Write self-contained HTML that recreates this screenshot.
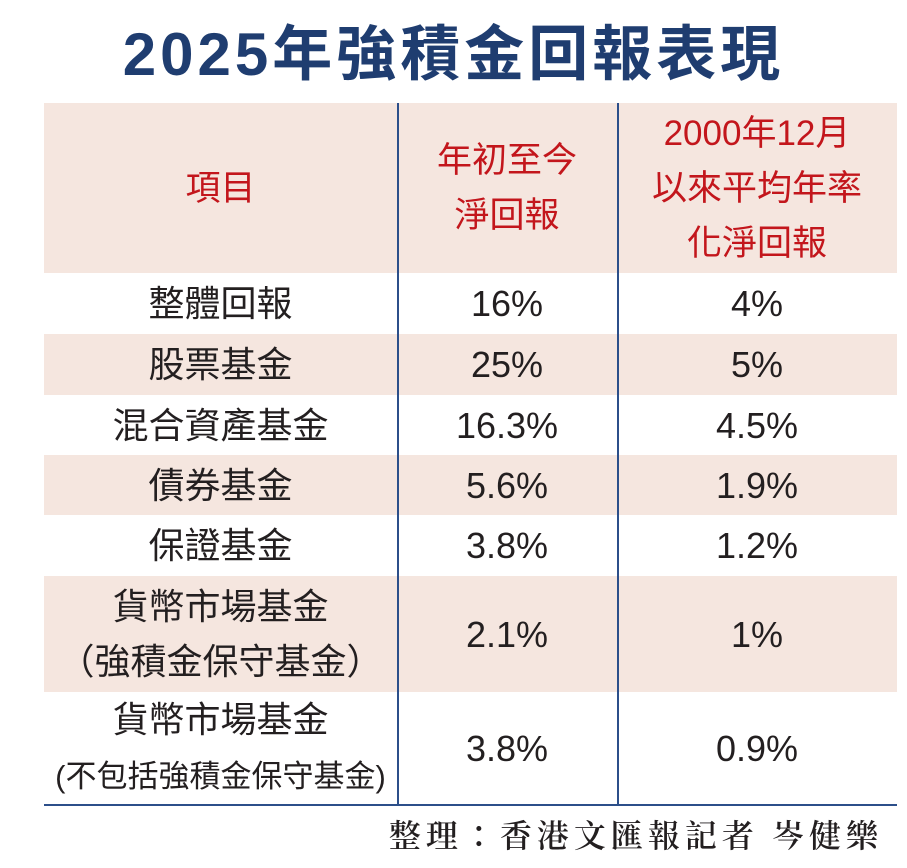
<!DOCTYPE html>
<html><head><meta charset="utf-8"><style>
body{margin:0;width:907px;height:868px;background:#fff;position:relative;overflow:hidden;font-family:"Liberation Sans","Noto Sans CJK TC",sans-serif;}
.a{position:absolute}
.row{position:absolute;left:44px;width:853px}
.pink{background:#f5e6df}
.cell{position:absolute;display:flex;align-items:center;justify-content:center;text-align:center;font-size:36px;color:#231f20;line-height:55px}
.h{color:#c3161c;font-size:35px;line-height:55px}
.vl{position:absolute;width:1.5px;background:#2c4f8a;top:103px;height:703px}
</style></head><body>
<div class="a" style="left:0;width:907px;top:22px;text-align:center;font-size:60px;font-weight:bold;color:#1f3d70;line-height:66px;letter-spacing:4px">2025年強積金回報表現</div>
<div class="row pink" style="top:103px;height:170px"></div>
<div class="row pink" style="top:334px;height:61px"></div>
<div class="row pink" style="top:455px;height:60px"></div>
<div class="row pink" style="top:576px;height:116px"></div>
<div class="vl" style="left:397px"></div>
<div class="vl" style="left:617px"></div>
<div class="a" style="left:44px;width:853px;top:804px;height:2px;background:#2c4f8a"></div>

<div class="cell h" style="left:44px;width:353px;top:103px;height:170px">項目</div>
<div class="cell h" style="left:397px;width:220px;top:103px;height:170px"><div>年初至今<br>淨回報</div></div>
<div class="cell h" style="left:617px;width:280px;top:103px;height:170px"><div>2000年12月<br>以來平均年率<br>化淨回報</div></div>

<div id="body"></div>
<script>
const names=["整體回報","股票基金","混合資產基金","債券基金","保證基金","貨幣市場基金<br>（強積金保守基金）","貨幣市場基金<br><span style=\"font-size:31px\">(不包括強積金保守基金)</span>"];
const ytd=["16%","25%","16.3%","5.6%","3.8%","2.1%","3.8%"];
const annual=["4%","5%","4.5%","1.9%","1.2%","1%","0.9%"];
const tops=[273,334,395,455,515,576,692];
const hts=[61,61,60,60,61,116,112];
const b=document.getElementById('body');
for(let i=0;i<names.length;i++){
  const cols=[[44,353,names[i]],[397,220,ytd[i]],[617,280,annual[i]]];
  cols.forEach((c,j)=>{
    const d=document.createElement('div');
    d.className='cell';
    d.style.left=c[0]+'px';d.style.width=c[1]+'px';
    d.style.top=tops[i]+'px';d.style.height=hts[i]+'px';
    const inner=document.createElement('div');
    inner.innerHTML=c[2];
    d.appendChild(inner);
    
    
    b.appendChild(d);
  });
}
</script>
<div class="a" style="right:24px;top:812px;font-size:32px;line-height:44px;color:#231f20;font-weight:600;font-family:'Noto Serif CJK TC','Noto Serif CJK SC',serif;letter-spacing:5px">整理：香港文匯報記者&nbsp;岑健樂</div>
</body></html>
